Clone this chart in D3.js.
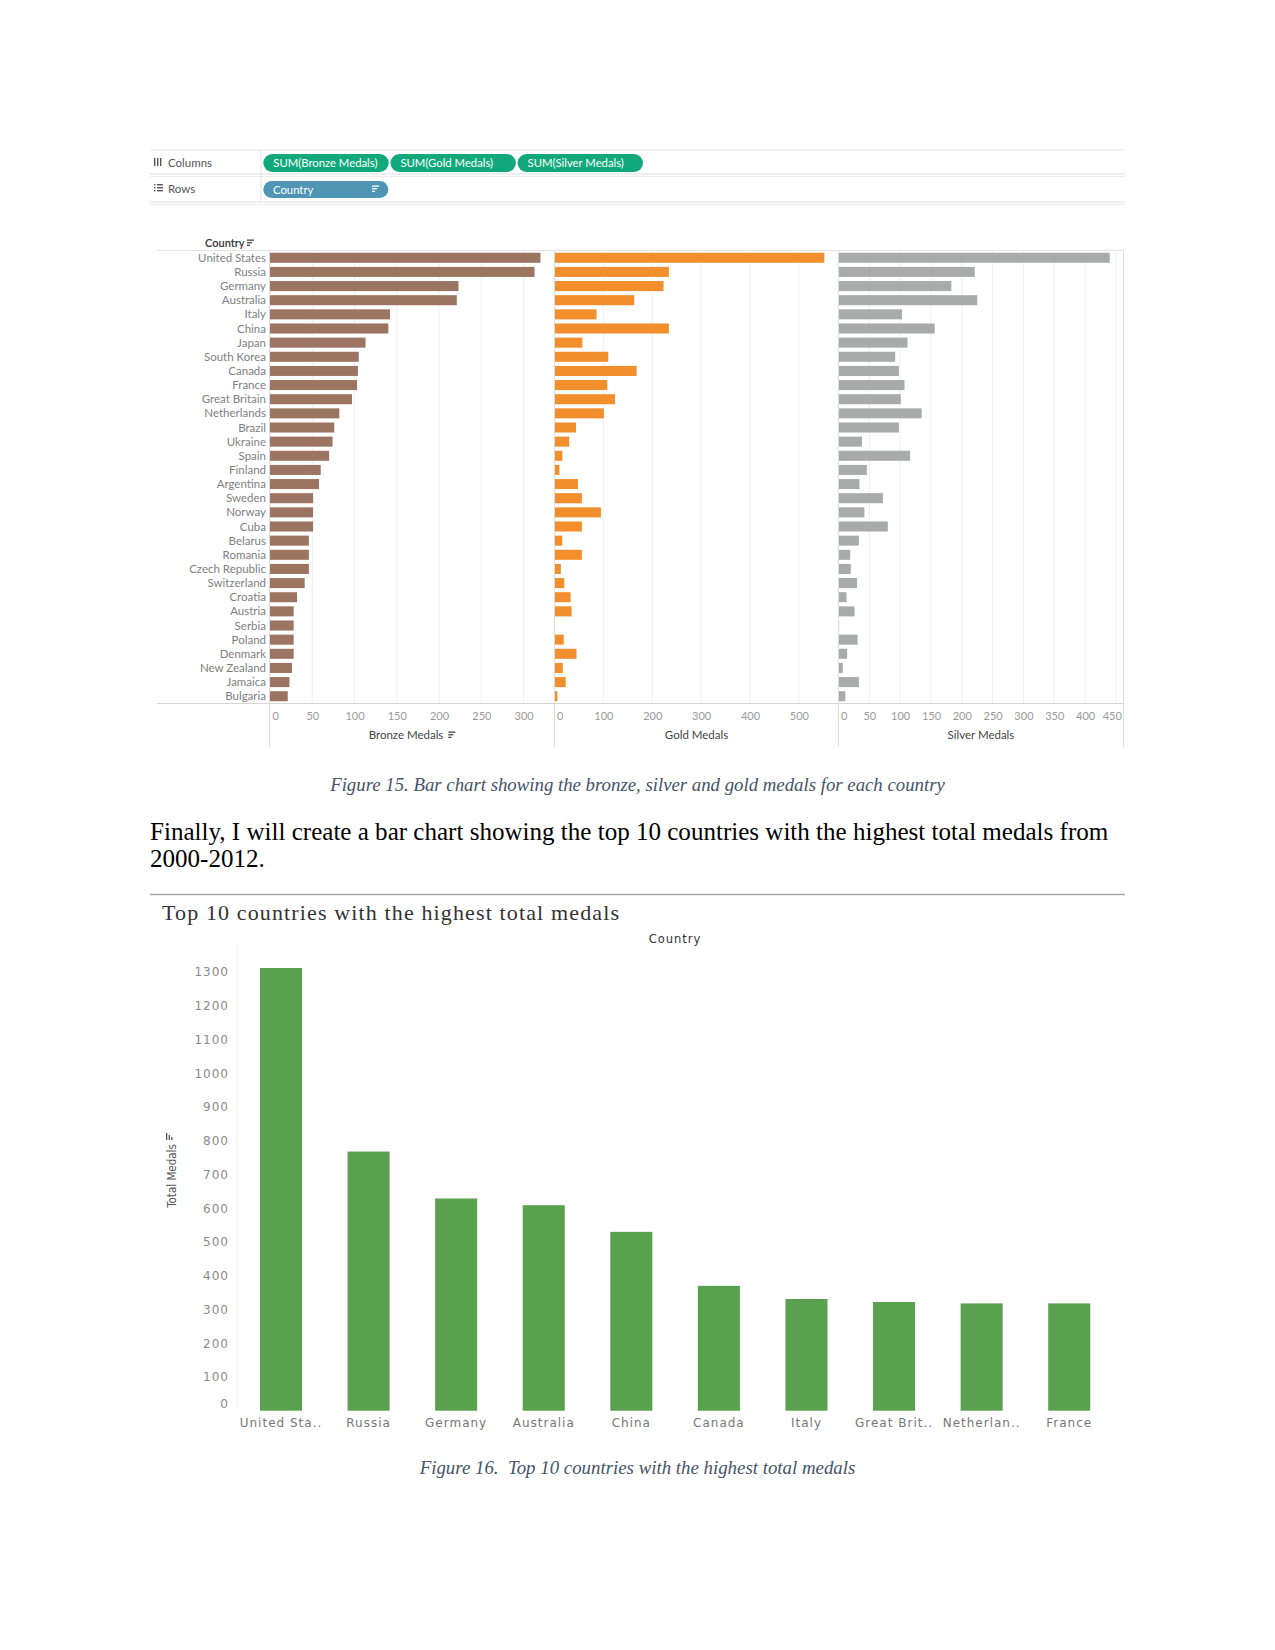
<!DOCTYPE html>
<html>
<head>
<meta charset="utf-8">
<script src="https://cdn.jsdelivr.net/npm/d3@7"></script>
<style>
  html, body { margin: 0; padding: 0; background: #ffffff; }
  svg { display: block; }
</style>
</head>
<body>
<script>
// ---------------- DATA ----------------
const countries = ["United States","Russia","Germany","Australia","Italy","China","Japan","South Korea",
  "Canada","France","Great Britain","Netherlands","Brazil","Ukraine","Spain","Finland","Argentina",
  "Sweden","Norway","Cuba","Belarus","Romania","Czech Republic","Switzerland","Croatia","Austria",
  "Serbia","Poland","Denmark","New Zealand","Jamaica","Bulgaria"];
const bronzeMedals = [320,313,223,221,142,140,113,105,104,103,97,82,76,74,70,60,58,51,51,51,46,46,46,41,32,28,28,28,28,26,23,21];
const goldMedals   = [552,234,223,163,86,234,57,110,168,108,124,101,44,30,16,10,48,56,95,56,16,56,13,20,33,35,0,19,45,17,23,6];
const silverMedals = [440,221,183,225,103,156,112,92,98,107,101,135,98,38,116,46,34,72,42,80,33,19,20,30,13,26,1,31,14,7,33,11];
const bronzeTicks = [0,50,100,150,200,250,300];
const goldTicks   = [0,100,200,300,400,500];
const silverTicks = [0,50,100,150,200,250,300,350,400,450];

const columnPills = ["SUM(Bronze Medals)","SUM(Gold Medals)","SUM(Silver Medals)"];
const rowPills = ["Country"];

const topCountries = ["United States","Russia","Germany","Australia","China","Canada","Italy","Great Britain","Netherlands","France"];
const topLabels    = ["United Sta..","Russia","Germany","Australia","China","Canada","Italy","Great Brit..","Netherlan..","France"];
const totalMedals  = [1312,768,629,609,530,370,331,322,318,318];
const totalTicks   = [0,100,200,300,400,500,600,700,800,900,1000,1100,1200,1300];

const caption15 = "Figure 15. Bar chart showing the bronze, silver and gold medals for each country";
const bodyLines = ["Finally, I will create a bar chart showing the top 10 countries with the highest total medals from",
                   "2000-2012."];
const chartTitle = "Top 10 countries with the highest total medals";
const caption16 = "Figure 16.  Top 10 countries with the highest total medals";

// ---------------- SETUP ----------------
const W = 1275, H = 1650;
const svg = d3.select("body").append("svg").attr("width", W).attr("height", H);
svg.append("rect").attr("width", W).attr("height", H).attr("fill", "#fff");

const TAB = "Lato, 'Open Sans', sans-serif";
const SERIF = "'Liberation Serif', 'Times New Roman', serif";
const TAB2 = "'DejaVu Sans', sans-serif";

function sortIcon(g, x, y, color, rot) {
  const ic = g.append("g").attr("transform", `translate(${x},${y}) rotate(${rot||0})`);
  [[0,7],[2.6,5],[5.2,3]].forEach(([dy,w]) => {
    ic.append("rect").attr("x", 0).attr("y", dy).attr("width", w).attr("height", 1.3).attr("fill", color);
  });
}

// ---------------- SHELF ----------------
const shelf = svg.append("g");
const lineC = "#e2e2e2";
[[150,"#e8e8e8"],[174,"#e0e0e0"],[176.5,"#ededed"],[202,"#e0e0e0"],[204.5,"#ededed"]].forEach(([y,c]) => {
  shelf.append("line").attr("x1",150).attr("x2",1125).attr("y1",y).attr("y2",y).attr("stroke",c);
});
shelf.append("line").attr("x1",261).attr("x2",261).attr("y1",150).attr("y2",202).attr("stroke",lineC);
[0,3,6].forEach(dx => shelf.append("rect").attr("x",154+dx).attr("y",158).attr("width",1.4).attr("height",8).attr("fill","#555"));
[0,3,6].forEach(dy => {
  shelf.append("rect").attr("x",154).attr("y",184+dy).attr("width",1.4).attr("height",1.4).attr("fill","#555");
  shelf.append("rect").attr("x",157).attr("y",184+dy).attr("width",6).attr("height",1.4).attr("fill","#555");
});
shelf.append("text").attr("x",168).attr("y",166.5).text("Columns")
  .attr("font-family",TAB).attr("font-size",11.5).attr("fill","#555");
shelf.append("text").attr("x",168).attr("y",193).text("Rows")
  .attr("font-family",TAB).attr("font-size",11.5).attr("fill","#555");

const pillX = d3.scaleBand().domain(columnPills).range([263.3, 643]).paddingInner(0.013);
columnPills.forEach(p => {
  const x = pillX(p);
  shelf.append("rect").attr("x",x).attr("y",154).attr("width",pillX.bandwidth()).attr("height",18)
    .attr("rx",9).attr("fill","#11a97c");
  shelf.append("text").attr("x",x+10).attr("y",167).text(p)
    .attr("font-family",TAB).attr("font-size",11.3).attr("fill","#fff");
});
rowPills.forEach(p => {
  shelf.append("rect").attr("x",263.3).attr("y",181).attr("width",125).attr("height",17)
    .attr("rx",8.5).attr("fill","#4e96b4");
  shelf.append("text").attr("x",273).attr("y",193.5).text(p)
    .attr("font-family",TAB).attr("font-size",11.3).attr("fill","#fff");
  sortIcon(shelf, 372, 185.5, "#fff");
});

// ---------------- TOP CHART (three panels) ----------------
const topG = svg.append("g");
const yTop = d3.scaleBand().domain(countries).range([250.7, 703.3]).paddingInner(0.29).paddingOuter(0.145);

const panels = [
  {title:"Bronze Medals", values:bronzeMedals, ticks:bronzeTicks, max:336, color:"#9c7462", x0:270, x1:554, icon:true},
  {title:"Gold Medals",   values:goldMedals,   ticks:goldTicks,   max:581, color:"#f28e2b", x0:554.5, x1:838.5},
  {title:"Silver Medals", values:silverMedals, ticks:silverTicks, max:462, color:"#a9abab", x0:838.5, x1:1123.3}
];

topG.append("text").attr("x",205).attr("y",246.5).text("Country")
  .attr("font-family",TAB).attr("font-size",11).attr("font-weight",600).attr("fill","#333");
sortIcon(topG, 247, 239.5, "#444");

panels.forEach(p => {
  const x = d3.scaleLinear().domain([0, p.max]).range([p.x0, p.x1]);
  topG.append("g").selectAll("line").data(p.ticks.filter(t => t > 0)).join("line")
    .attr("x1", d => x(d)).attr("x2", d => x(d)).attr("y1", 251).attr("y2", 703)
    .attr("stroke", "#efefef");
  topG.append("g").selectAll("rect").data(countries).join("rect")
    .attr("x", x(0)).attr("y", d => yTop(d))
    .attr("width", (d,i) => Math.max(0, x(p.values[i]) - x(0)))
    .attr("height", yTop.bandwidth()).attr("fill", p.color);
  const ax = topG.append("g").attr("transform", "translate(0,703.5)")
    .call(d3.axisBottom(x).tickValues(p.ticks).tickSize(0).tickPadding(9));
  ax.select(".domain").remove();
  ax.selectAll("text").attr("font-family",TAB).attr("font-size",11).attr("fill","#999")
    .each(function(d) {
      const t = d3.select(this);
      const w = this.getComputedTextLength();
      const cx = x(d);
      if (cx - w/2 < p.x0 + 2) t.attr("dx", (p.x0 + 2 + w/2) - cx);
      else if (cx + w/2 > p.x1 - 2) t.attr("dx", (p.x1 - 2 - w/2) - cx);
    });
  const cx = (p.x0 + p.x1) / 2;
  const tt = topG.append("text").attr("x", cx - (p.icon ? 6 : 0)).attr("y", 739).attr("text-anchor","middle")
    .text(p.title).attr("font-family",TAB).attr("font-size",11.5).attr("fill","#444");
  if (p.icon) {
    const w = tt.node().getComputedTextLength();
    sortIcon(topG, cx - 6 + w/2 + 5, 731.5, "#444");
  }
});

topG.append("g").selectAll("text").data(countries).join("text")
  .attr("x", 266).attr("y", d => yTop(d) + yTop.bandwidth()/2).attr("dy","0.35em")
  .attr("text-anchor","end").text(d => d)
  .attr("font-family",TAB).attr("font-size",11.5).attr("fill","#808080");

topG.append("line").attr("x1",157).attr("x2",1123.5).attr("y1",250.5).attr("y2",250.5).attr("stroke","#e3e3e3");
topG.append("line").attr("x1",157).attr("x2",1123.5).attr("y1",703.5).attr("y2",703.5).attr("stroke","#d6d6d6");
[269.5, 554.5, 838.5, 1123.5].forEach(xx => {
  topG.append("line").attr("x1",xx).attr("x2",xx).attr("y1",250.5).attr("y2",747).attr("stroke","#dddddd");
});

svg.append("text").attr("x",637.5).attr("y",790.7).attr("text-anchor","middle").text(caption15)
  .attr("font-family",SERIF).attr("font-style","italic").attr("font-size",18.8).attr("fill","#44546a");
bodyLines.forEach((l,i) => {
  svg.append("text").attr("x",150).attr("y",840 + i*27).text(l)
    .attr("font-family",SERIF).attr("font-size",25.05).attr("fill","#000");
});

// ---------------- BOTTOM CHART ----------------
const bot = svg.append("g");
bot.append("line").attr("x1",150).attr("x2",1125).attr("y1",894.5).attr("y2",894.5).attr("stroke","#a8a8a8").attr("stroke-width",1.3);
bot.append("text").attr("x",162).attr("y",920).text(chartTitle)
  .attr("font-family",SERIF).attr("font-size",22).attr("fill","#333")
  .attr("textLength",457).attr("lengthAdjust","spacing");
bot.append("text").attr("x",675).attr("y",942.5).attr("text-anchor","middle").text("Country")
  .attr("font-family",TAB2).attr("font-size",11.5).attr("letter-spacing",1).attr("fill","#333");

const xB = d3.scaleBand().domain(topCountries).range([237.2, 1113]).paddingInner(0.52).paddingOuter(0.26);
const yB = d3.scaleLinear().domain([0, 1392]).range([1410.7, 941]);

bot.append("line").attr("x1",237).attr("x2",237).attr("y1",941).attr("y2",1411).attr("stroke","#f2f2f2");

bot.append("g").selectAll("rect").data(topCountries).join("rect")
  .attr("x", d => xB(d)).attr("width", xB.bandwidth())
  .attr("y", (d,i) => yB(totalMedals[i])).attr("height", (d,i) => yB(0) - yB(totalMedals[i]))
  .attr("fill", "#59a14f");

const yAx = bot.append("g").attr("transform","translate(237,0)")
  .call(d3.axisLeft(yB).tickValues(totalTicks).tickFormat(d3.format("d")).tickSize(0).tickPadding(8));
yAx.select(".domain").remove();
yAx.selectAll("text").attr("font-family",TAB2).attr("font-size",12).attr("letter-spacing",1).attr("fill","#8a8a8a")
  .attr("dy", d => d === 0 ? "-0.28em" : "0.32em");

const xAx = bot.append("g").attr("transform","translate(0,1411)")
  .call(d3.axisBottom(xB).tickFormat((d,i) => topLabels[i]).tickSize(0).tickPadding(7));
xAx.select(".domain").remove();
xAx.selectAll("text").attr("font-family",TAB2).attr("font-size",12).attr("letter-spacing",1).attr("fill","#777");

bot.append("text").attr("transform","translate(175.5,1176) rotate(-90)").attr("text-anchor","middle")
  .text("Total Medals").attr("font-family","'DejaVu Sans Condensed', 'Liberation Sans Narrow', sans-serif")
  .attr("font-size",11.5).attr("fill","#555");
sortIcon(bot, 166, 1140, "#555", -90);

svg.append("text").attr("x",637.5).attr("y",1474).attr("text-anchor","middle").text(caption16)
  .attr("xml:space","preserve").style("white-space","pre")
  .attr("font-family",SERIF).attr("font-style","italic").attr("font-size",18.85).attr("fill","#44546a");
</script>
</body>
</html>
